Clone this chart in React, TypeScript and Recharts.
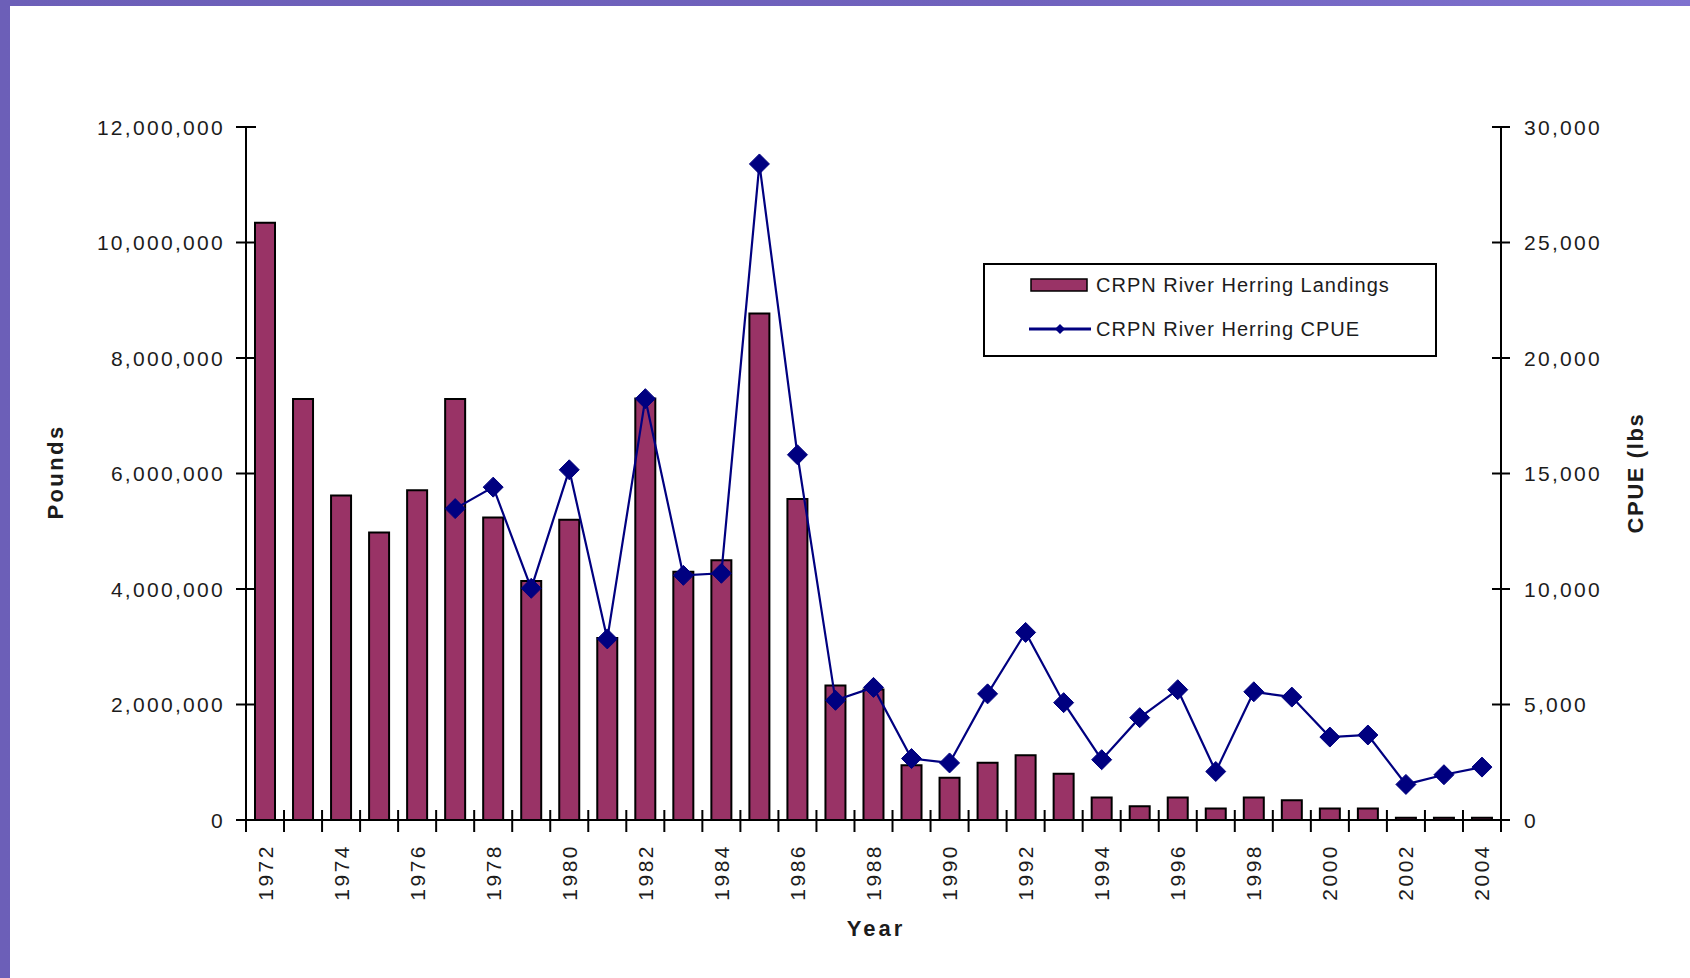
import { ComposedChart, Bar, Line, XAxis, YAxis } from "recharts";

const years = [
  1972, 1973, 1974, 1975, 1976, 1977, 1978, 1979, 1980, 1981, 1982, 1983, 1984, 1985, 1986, 1987,
  1988, 1989, 1990, 1991, 1992, 1993, 1994, 1995, 1996, 1997, 1998, 1999, 2000, 2001, 2002, 2003, 2004,
];

const landings = [
  10340000, 7290000, 5620000, 4980000, 5710000, 7290000, 5240000, 4140000, 5200000, 3150000, 7300000,
  4300000, 4500000, 8770000, 5560000, 2330000, 2260000, 950000, 730000, 990000, 1120000, 800000, 390000,
  240000, 390000, 200000, 390000, 340000, 200000, 200000, 40000, 40000, 40000,
];

const cpue: (number | null)[] = [
  null, null, null, null, null, 13480, 14410, 10030, 15160, 7840, 18240, 10590, 10680, 28400, 15810, 5180,
  5740, 2660, 2470, 5460, 8120, 5080, 2610, 4430, 5640, 2100, 5550, 5320, 3590, 3680, 1540, 1960, 2290,
];

const poundTicks = [0, 2000000, 4000000, 6000000, 8000000, 10000000, 12000000];
const cpueTicks = [0, 5000, 10000, 15000, 20000, 25000, 30000];

const data = years.map((year, i) => ({ year, landings: landings[i], cpue: cpue[i] }));

const W = 1690;
const H = 978;
const LEFT_X = 246;
const RIGHT_X = 1501;
const TOP_Y = 127;
const AXIS_Y = 820;
const BAND = (RIGHT_X - LEFT_X) / years.length;
const FONT = "'Liberation Sans', Arial, sans-serif";
const TEXT = "#1c1c1c";
const BAR = "#993366";
const NAVY = "#000080";

const fmt = (v: number) => v.toLocaleString("en-US");

function LeftTick({ y, payload }: any) {
  return (
    <g>
      <line x1={LEFT_X - 10} x2={LEFT_X + 10} y1={y} y2={y} stroke="#000" strokeWidth={2} />
      <text x={LEFT_X - 21} y={y} textAnchor="end" dominantBaseline="central" fontFamily={FONT} fontSize={21} letterSpacing={2.3} fill={TEXT}>
        {fmt(payload.value)}
      </text>
    </g>
  );
}

function RightTick({ y, payload }: any) {
  return (
    <g>
      <line x1={RIGHT_X - 9} x2={RIGHT_X + 9} y1={y} y2={y} stroke="#000" strokeWidth={2} />
      <text x={RIGHT_X + 23} y={y} textAnchor="start" dominantBaseline="central" fontFamily={FONT} fontSize={21} letterSpacing={2.3} fill={TEXT}>
        {fmt(payload.value)}
      </text>
    </g>
  );
}

function YearTick({ x, payload, index }: any) {
  const left = x - BAND / 2;
  const right = x + BAND / 2;
  return (
    <g>
      <line x1={left} x2={left} y1={AXIS_Y - 10} y2={AXIS_Y + 12} stroke="#000" strokeWidth={2} />
      {index === years.length - 1 && (
        <line x1={right} x2={right} y1={AXIS_Y} y2={AXIS_Y + 12} stroke="#000" strokeWidth={2} />
      )}
      {payload.value % 2 === 0 && (
        <text
          x={x}
          y={844}
          textAnchor="end"
          dominantBaseline="central"
          transform={`rotate(-90, ${x}, 844)`}
          fontFamily={FONT}
          fontSize={21}
          letterSpacing={2.5}
          fill={TEXT}
        >
          {payload.value}
        </text>
      )}
    </g>
  );
}

function Diamond({ cx, cy, index }: any) {
  if (cx == null || cy == null) return <g key={`d${index}`} />;
  const r = 10;
  return (
    <polygon
      key={`d${index}`}
      points={`${cx},${cy - r} ${cx + r},${cy} ${cx},${cy + r} ${cx - r},${cy}`}
      fill={NAVY}
      stroke={NAVY}
    />
  );
}

function LegendBox() {
  return (
    <div
      style={{
        position: "absolute",
        left: 983,
        top: 263,
        width: 450,
        height: 90,
        border: "2px solid #000",
        background: "#fff",
      }}
    >
      <svg width={450} height={90} style={{ position: "absolute", left: 0, top: 0 }}>
        <rect x={46} y={14} width={56} height={12} fill={BAR} stroke="#000" strokeWidth={1.5} />
        <line x1={44} x2={106} y1={64} y2={64} stroke={NAVY} strokeWidth={3} />
        <polygon points="75,59 80,64 75,69 70,64" fill={NAVY} />
        <text x={111} y={20} dominantBaseline="central" fontFamily={FONT} fontSize={20} letterSpacing={1} fill={TEXT}>
          CRPN River Herring Landings
        </text>
        <text x={111} y={64} dominantBaseline="central" fontFamily={FONT} fontSize={20} letterSpacing={1} fill={TEXT}>
          CRPN River Herring CPUE
        </text>
      </svg>
    </div>
  );
}

export default function App() {
  return (
    <div
      style={{
        position: "fixed",
        left: 0,
        top: 0,
        width: W,
        height: H,
        background: "linear-gradient(90deg, #6c5fb8 0%, #7062bd 60%, #7f72cf 100%)",
      }}
    >
      <div style={{ position: "absolute", left: 10, top: 6, width: W - 10, height: H - 6, background: "#fff" }} />
      <div style={{ position: "absolute", left: 0, top: 0 }}>
        <ComposedChart
          width={W}
          height={H}
          data={data}
          margin={{ top: TOP_Y, left: LEFT_X - 150, right: W - RIGHT_X - 150, bottom: H - AXIS_Y - 60 }}
          barSize={20}
        >
          <XAxis
            dataKey="year"
            interval={0}
            height={60}
            tick={<YearTick />}
            tickLine={false}
            axisLine={{ stroke: "#000", strokeWidth: 2 }}
          />
          <YAxis
            yAxisId="left"
            width={150}
            domain={[0, 12000000]}
            ticks={poundTicks}
            tick={<LeftTick />}
            tickLine={false}
            axisLine={{ stroke: "#000", strokeWidth: 2 }}
            label={{
              content: () => (
                <text
                  x={55}
                  y={472}
                  textAnchor="middle"
                  dominantBaseline="central"
                  transform="rotate(-90, 55, 472)"
                  fontFamily={FONT}
                  fontSize={22}
                  fontWeight="bold"
                  letterSpacing={2.4}
                  fill={TEXT}
                >
                  Pounds
                </text>
              ),
            }}
          />
          <YAxis
            yAxisId="right"
            orientation="right"
            width={150}
            domain={[0, 30000]}
            ticks={cpueTicks}
            tick={<RightTick />}
            tickLine={false}
            axisLine={{ stroke: "#000", strokeWidth: 2 }}
            label={{
              content: () => (
                <text
                  x={1635}
                  y={473}
                  textAnchor="middle"
                  dominantBaseline="central"
                  transform="rotate(-90, 1635, 473)"
                  fontFamily={FONT}
                  fontSize={22}
                  fontWeight="bold"
                  letterSpacing={1.6}
                  fill={TEXT}
                >
                  CPUE (lbs
                </text>
              ),
            }}
          />
          <Bar
            yAxisId="left"
            dataKey="landings"
            name="CRPN River Herring Landings"
            fill={BAR}
            stroke="#000"
            strokeWidth={2}
            isAnimationActive={false}
          />
          <Line
            yAxisId="right"
            dataKey="cpue"
            name="CRPN River Herring CPUE"
            type="linear"
            stroke={NAVY}
            strokeWidth={2.2}
            dot={<Diamond />}
            activeDot={false}
            isAnimationActive={false}
          />
        </ComposedChart>
      </div>
      <LegendBox />
      <div
        style={{
          position: "absolute",
          left: 876,
          top: 929,
          transform: "translate(-50%, -50%)",
          fontFamily: FONT,
          fontSize: 22,
          fontWeight: "bold",
          letterSpacing: 3,
          color: TEXT,
        }}
      >
        Year
      </div>
    </div>
  );
}
